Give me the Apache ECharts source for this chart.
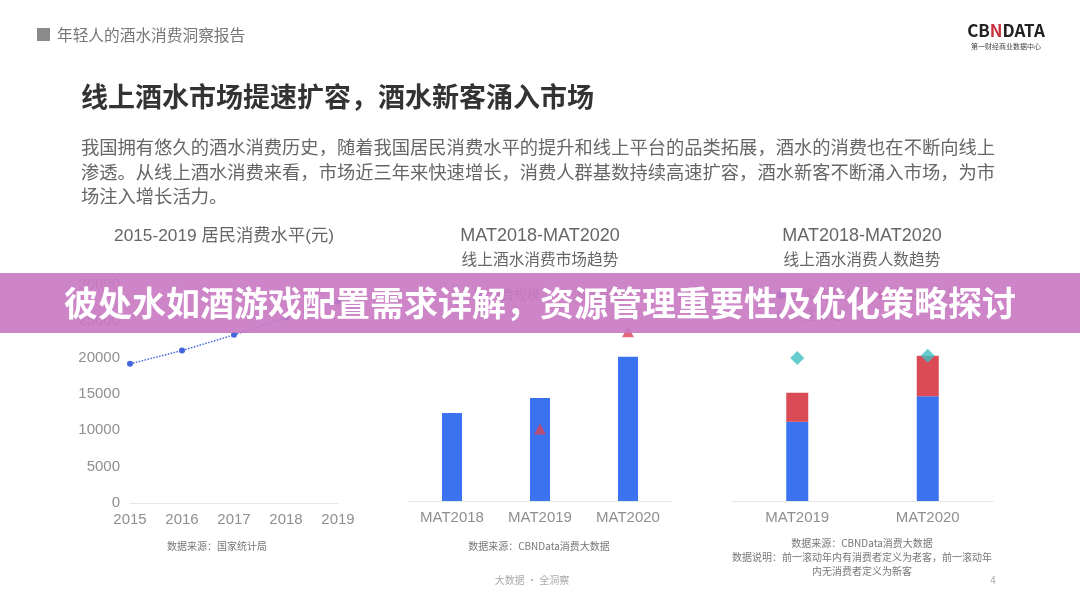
<!DOCTYPE html>
<html>
<head>
<meta charset="utf-8">
<script src="https://cdn.jsdelivr.net/npm/echarts@6/dist/echarts.min.js"></script>
<style>
html,body{margin:0;padding:0;background:#fff;}
#main{width:1080px;height:608px;}
</style>
</head>
<body>
<div id="main"></div>
<script>
// ---- data ----
const years = ['2015', '2016', '2017', '2018', '2019'];
const consumption = [19150, 20980, 23140, 25520, 27690];
const matCats = ['MAT2018', 'MAT2019', 'MAT2020'];
const marketScale = [100, 117, 164];
const marketGrowth = [null, 17, 40];
const userCats = ['MAT2019', 'MAT2020'];
const newUsers = [90, 119];
const oldUsers = [33, 46];
const newShare = [65, 66];

const FONT = '"Noto Sans CJK SC", "Noto Sans", sans-serif';
const LFONT = '"Liberation Sans", "Noto Sans CJK SC", sans-serif';
const chart = echarts.init(document.getElementById('main'));

function txt(text, x, y, size, color, align, weight, fam) {
  return {
    type: 'text', z: 50,
    style: {
      text: text, x: x, y: y, fill: color,
      font: (weight || 'normal') + ' ' + size + 'px ' + (fam || FONT),
      textAlign: align || 'left', textVerticalAlign: 'middle'
    }
  };
}

const axisLabelStyle = { color: '#8f8f8f', fontSize: 15, margin: 9, fontFamily: LFONT };

const option = {
  backgroundColor: '#ffffff',
  textStyle: { fontFamily: FONT },
  animation: false,
  legend: [
    { data: [{ name: '消费规模', icon: 'rect' }, { name: '消费增速', icon: 'triangle' }],
      left: 470, top: 283, itemWidth: 8, itemHeight: 8, itemGap: 20,
      textStyle: { color: '#888', fontSize: 13 } },
    { data: [{ name: '新客消费人数', icon: 'rect' }, { name: '老客消费人数', icon: 'rect' }],
      left: 772, top: 283, itemWidth: 8, itemHeight: 8, itemGap: 10,
      textStyle: { color: '#888', fontSize: 13 } },
    { data: [{ name: '新客占比', icon: 'diamond' }],
      left: 770, top: 303, itemWidth: 10, itemHeight: 10,
      textStyle: { color: '#888', fontSize: 13 } }
  ],
  grid: [
    { left: 130, right: 742, top: 285, bottom: 105, containLabel: false },
    { left: 408, right: 408, top: 281, bottom: 107, containLabel: false },
    { left: 732, right: 87, top: 281, bottom: 107, containLabel: false }
  ],
  xAxis: [
    { gridIndex: 0, type: 'category', data: years, boundaryGap: false,
      axisLine: { lineStyle: { color: '#e6e6e6' } }, axisTick: { show: false },
      axisLabel: axisLabelStyle },
    { gridIndex: 1, type: 'category', data: matCats,
      axisLine: { lineStyle: { color: '#e6e6e6' } }, axisTick: { show: false },
      axisLabel: axisLabelStyle },
    { gridIndex: 2, type: 'category', data: userCats,
      axisLine: { lineStyle: { color: '#e6e6e6' } }, axisTick: { show: false },
      axisLabel: axisLabelStyle }
  ],
  yAxis: [
    { gridIndex: 0, type: 'value', min: 0, max: 30000, interval: 5000,
      axisLine: { show: false }, axisTick: { show: false }, splitLine: { show: false },
      axisLabel: { color: '#8f8f8f', fontSize: 15, margin: 10, fontFamily: LFONT,
                   formatter: function (v) { return String(v); } } },
    { gridIndex: 1, type: 'value', min: 0, max: 250, show: false, splitLine: { show: false } },
    { gridIndex: 1, type: 'value', min: 0, max: 52, show: false, splitLine: { show: false } },
    { gridIndex: 2, type: 'value', min: 0, max: 250, show: false, splitLine: { show: false } },
    { gridIndex: 2, type: 'value', min: 0, max: 100, show: false, splitLine: { show: false } }
  ],
  series: [
    { name: '居民消费水平', type: 'line', xAxisIndex: 0, yAxisIndex: 0, data: consumption,
      symbol: 'circle', symbolSize: 6,
      itemStyle: { color: '#4466dd' },
      lineStyle: { type: 'dotted', width: 1.5, color: '#4466dd' } },
    { name: '消费规模', type: 'bar', xAxisIndex: 1, yAxisIndex: 1, data: marketScale,
      barWidth: 20, itemStyle: { color: '#3b72f0' } },
    { name: '消费增速', type: 'scatter', xAxisIndex: 1, yAxisIndex: 2, data: marketGrowth,
      symbol: 'triangle', symbolSize: [12, 11], itemStyle: { color: '#d8435a' }, z: 5 },
    { name: '新客消费人数', type: 'bar', stack: 'u', xAxisIndex: 2, yAxisIndex: 3, data: newUsers,
      barWidth: 22, itemStyle: { color: '#3b72f0' } },
    { name: '老客消费人数', type: 'bar', stack: 'u', xAxisIndex: 2, yAxisIndex: 3, data: oldUsers,
      barWidth: 22, itemStyle: { color: '#db4b55' } },
    { name: '新客占比', type: 'scatter', xAxisIndex: 2, yAxisIndex: 4, data: newShare,
      symbol: 'diamond', symbolSize: [14, 14], itemStyle: { color: '#3ec0c2' }, z: 5 }
  ],
  graphic: [
    // header
    { type: 'rect', z: 50, shape: { x: 37, y: 28, width: 13, height: 13 }, style: { fill: '#8a8a8a' } },
    txt('年轻人的酒水消费洞察报告', 57, 35, 15.7, '#777', 'left'),
    { type: 'text', z: 50, style: { x: 1006, y: 31, textAlign: 'center', textVerticalAlign: 'middle',
        text: '{a|CB}{b|N}{a|DATA}',
        rich: { a: { fontSize: 17, fontWeight: 'bold', fill: '#222', fontFamily: FONT },
                b: { fontSize: 17, fontWeight: 'bold', fill: '#c8323c', fontFamily: FONT } } } },
    txt('第一财经商业数据中心', 1006, 46, 7, '#444', 'center'),
    // main title + paragraph
    txt('线上酒水市场提速扩容，酒水新客涌入市场', 81, 97, 27, '#333', 'left', 'bold'),
    txt('我国拥有悠久的酒水消费历史，随着我国居民消费水平的提升和线上平台的品类拓展，酒水的消费也在不断向线上', 81, 147, 18.3, '#666', 'left'),
    txt('渗透。从线上酒水消费来看，市场近三年来快速增长，消费人群基数持续高速扩容，酒水新客不断涌入市场，为市', 81, 172, 18.3, '#666', 'left'),
    txt('场注入增长活力。', 81, 196, 18.3, '#666', 'left'),
    // chart titles
    txt('2015-2019 居民消费水平(元)', 224, 236, 17.3, '#666', 'center', 'normal', LFONT),
    txt('MAT2018-MAT2020', 540, 236, 18, '#666', 'center', 'normal', LFONT),
    txt('线上酒水消费市场趋势', 540, 259, 15.7, '#666', 'center'),
    txt('MAT2018-MAT2020', 862, 236, 18, '#666', 'center', 'normal', LFONT),
    txt('线上酒水消费人数趋势', 862, 259, 15.7, '#666', 'center'),
    // sources
    txt('数据来源：国家统计局', 217, 546, 10, '#777', 'center'),
    txt('数据来源：CBNData消费大数据', 539, 546, 10, '#777', 'center'),
    txt('数据来源：CBNData消费大数据', 862, 543, 10, '#777', 'center'),
    txt('数据说明：前一滚动年内有消费者定义为老客，前一滚动年', 862, 557, 10, '#777', 'center'),
    txt('内无消费者定义为新客', 862, 571, 10, '#777', 'center'),
    // footer
    txt('大数据 · 全洞察', 532, 580, 10, '#aaa', 'center'),
    txt('4', 993, 580, 10, '#aaa', 'center'),
    // banner
    { type: 'rect', z: 100, shape: { x: 0, y: 273, width: 1080, height: 60 },
      style: { fill: 'rgba(200,120,194,0.9)' } },
    { type: 'text', z: 101, style: { x: 540, y: 303, textAlign: 'center', textVerticalAlign: 'middle',
        text: '彼处水如酒游戏配置需求详解，资源管理重要性及优化策略探讨',
        font: 'bold 34px ' + FONT, fill: '#ffffff' } }
  ]
};
chart.setOption(option);
</script>
</body>
</html>
